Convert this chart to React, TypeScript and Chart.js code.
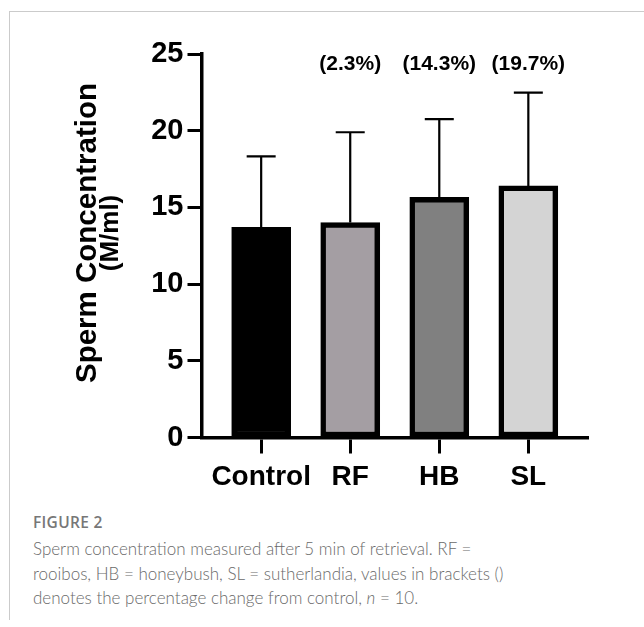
import React, { useEffect, useRef } from "react";
import { Chart, registerables } from "chart.js";

Chart.register(...registerables);

const categories = ["Control", "RF", "HB", "SL"];
const means = [13.7, 14.01, 15.66, 16.4];
const sds = [4.63, 5.89, 5.1, 6.08];
const percentLabels = ["", "(2.3%)", "(14.3%)", "(19.7%)"];
const barColors = ["#000000", "#a49ea3", "#808080", "#d4d4d4"];
const yTicks = [0, 5, 10, 15, 20, 25];
const yTitle = ["Sperm Concentration", "(M/ml)"];

const FONT = "'Liberation Sans', Arial, Helvetica, sans-serif";

export default function App() {
  const ref = useRef<HTMLCanvasElement | null>(null);

  useEffect(() => {
    document.body.style.margin = "0";
    const canvas = ref.current;
    if (!canvas) return;

    const errorBars = {
      id: "errorBars",
      afterDatasetsDraw(chart: any) {
        const ctx = chart.ctx;
        const meta = chart.getDatasetMeta(0);
        const y = chart.scales.y;
        ctx.save();
        ctx.strokeStyle = "#000";
        ctx.lineWidth = 2.2;
        meta.data.forEach((bar: any, i: number) => {
          const x = bar.x;
          const y0 = y.getPixelForValue(means[i]);
          const y1 = y.getPixelForValue(means[i] + sds[i]);
          ctx.beginPath();
          ctx.moveTo(x, y0);
          ctx.lineTo(x, y1);
          ctx.moveTo(x - 14.5, y1);
          ctx.lineTo(x + 14.5, y1);
          ctx.stroke();
        });
        ctx.restore();
      },
      afterDraw(chart: any) {
        const ctx = chart.ctx;
        const meta = chart.getDatasetMeta(0);
        ctx.save();
        ctx.fillStyle = "#000";
        ctx.font = `bold 21px ${FONT}`;
        ctx.textAlign = "center";
        ctx.textBaseline = "middle";
        meta.data.forEach((bar: any, i: number) => {
          if (percentLabels[i]) ctx.fillText(percentLabels[i], bar.x, 64);
        });
        // y axis title
        const cy = 233;
        ctx.translate(0, cy);
        ctx.rotate(-Math.PI / 2);
        ctx.textBaseline = "alphabetic";
        ctx.font = `bold 29.5px ${FONT}`;
        ctx.fillText(yTitle[0], 0, 96);
        ctx.font = `bold 26px ${FONT}`;
        ctx.fillText(yTitle[1], 0, 118);
        ctx.restore();
      },
    };

    const chart = new Chart(canvas, {
      type: "bar",
      data: {
        datasets: [
          {
            data: means.map((v, i) => ({ x: i, y: v })),
            backgroundColor: barColors,
            borderColor: "#000",
            borderWidth: 5.5,
            borderSkipped: false,
            barThickness: 59,
          } as any,
        ],
      },
      options: {
        animation: false,
        responsive: false,
        maintainAspectRatio: false,
        layout: { padding: { left: 0, top: 54, right: 56, bottom: 0 } },
        plugins: { legend: { display: false }, tooltip: { enabled: false } },
        scales: {
          x: {
            type: "linear",
            offset: false,
            min: -0.67,
            max: 3.67,
            afterBuildTicks: (s: any) => {
              s.ticks = categories.map((_, i) => ({ value: i }));
            },
            afterFit: (s: any) => {
              s.height = 72.5;
            },
            ticks: {
              callback: (_v: any, i: number) => categories[i],
              font: { family: FONT, size: 28, weight: "bold" },
              color: "#000",
              padding: 7,
              maxRotation: 0,
              autoSkip: false,
            },
            grid: {
              offset: false,
              drawOnChartArea: false,
              drawTicks: true,
              tickLength: 16,
              tickWidth: 3,
              tickColor: "#000",
            },
            border: { display: true, color: "#000", width: 3.5 },
          },
          y: {
            type: "linear",
            min: 0,
            max: 25,
            afterBuildTicks: (s: any) => {
              s.ticks = yTicks.map((v) => ({ value: v }));
            },
            afterFit: (s: any) => {
              s.width = 201.5;
            },
            ticks: {
              font: { family: FONT, size: 29, weight: "bold" },
              color: "#000",
              padding: 4,
            },
            grid: {
              drawOnChartArea: false,
              drawTicks: true,
              tickLength: 14,
              tickWidth: 3,
              tickColor: "#000",
            },
            border: { display: true, color: "#000", width: 3.5 },
          },
        },
      } as any,
      plugins: [errorBars],
    });

    return () => chart.destroy();
  }, []);

  return (
    <div style={{ position: "relative", width: 644, height: 627, background: "#fff", overflow: "hidden" }}>
      <div style={{ position: "absolute", left: 9, top: 11, width: 635, height: 1, background: "#cbcbcb" }} />
      <div style={{ position: "absolute", left: 9, top: 11, width: 1, height: 609, background: "#cbcbcb" }} />
      <canvas ref={ref} width={644} height={510} style={{ position: "absolute", left: 0, top: 0, display: "block" }} />
      <div
        style={{
          position: "absolute",
          left: 33,
          top: 511,
          fontFamily: "'Open Sans', sans-serif",
          fontWeight: 600,
          fontSize: 15.5,
          color: "#777",
          letterSpacing: 0.3,
        }}
      >
        FIGURE 2
      </div>
      <div
        style={{
          position: "absolute",
          left: 33,
          top: 537,
          width: 600,
          fontFamily: "Lato, sans-serif",
          fontWeight: 300,
          fontSize: 17,
          lineHeight: "24.5px",
          color: "#6a6a6a",
          whiteSpace: "nowrap",
        }}
      >
        <div>Sperm concentration measured after 5 min of retrieval. RF =</div>
        <div>rooibos, HB = honeybush, SL = sutherlandia, values in brackets ()</div>
        <div>
          denotes the percentage change from control, <i>n</i> = 10.
        </div>
      </div>
    </div>
  );
}
